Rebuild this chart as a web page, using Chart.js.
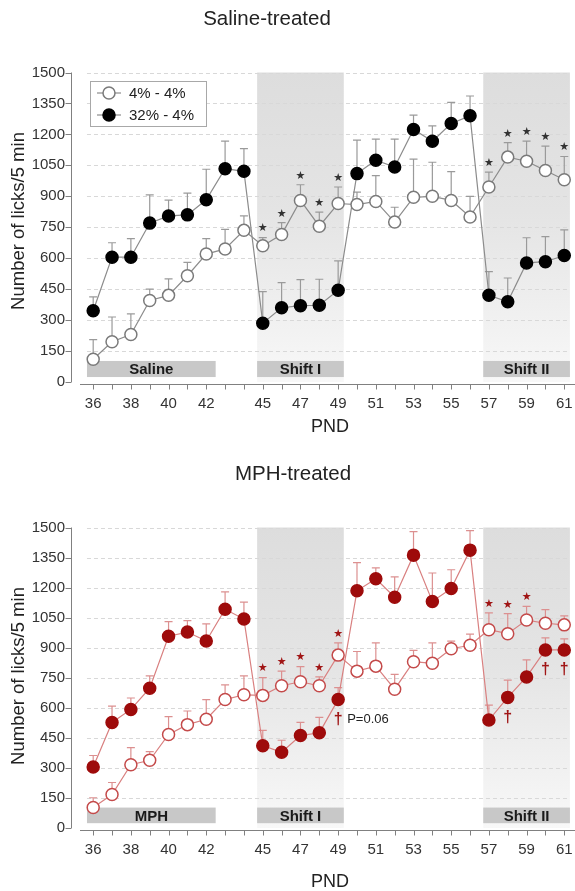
<!DOCTYPE html>
<html>
<head>
<meta charset="utf-8">
<script src="https://cdn.jsdelivr.net/npm/chart.js@4.4.1/dist/chart.umd.min.js"></script>
<style>
  html, body { margin: 0; padding: 0; background: #fff; }
  #wrap { position: relative; width: 575px; height: 891px; overflow: hidden; }
  .panel { position: absolute; left: 0; width: 575px; }
</style>
</head>
<body>
<div id="wrap">
  <div class="panel" style="top:0"><canvas id="salineChart" width="575" height="445"></canvas></div>
  <div class="panel" style="top:455px"><canvas id="mphChart" width="575" height="436"></canvas></div>
</div>
<script>
// licks per 5 min, PND 36..61
const days = [36, 37, 38, 39, 40, 41, 42, 43, 44, 45, 46, 47, 48, 49, 50, 51, 52, 53, 54, 55, 56, 57, 58, 59, 60, 61];
const dayLabels = [36, 38, 40, 42, 45, 47, 49, 51, 53, 55, 57, 59, 61];
const seriesNames = ['4% - 4%', '32% - 4%'];

const salineCtrl    = [110, 195, 230, 395, 420, 515, 620, 645, 735, 660, 715, 880, 755, 865, 860, 875, 775, 895, 900, 880, 800, 945, 1090, 1070, 1025, 980];
const salineCtrlErr = [95, 120, 100, 55, 80, 65, 75, 95, 70, 40, 57, 76, 68, 80, 60, 125, 72, 185, 165, 140, 100, 72, 70, 97, 118, 113];
const salineShift    = [345, 605, 605, 770, 805, 810, 883, 1034, 1021, 285, 360, 370, 372, 445, 1010, 1075, 1042, 1224, 1167, 1253, 1290, 420, 389, 577, 583, 613];
const salineShiftErr = [68, 70, 90, 137, 76, 105, 148, 133, 110, 153, 122, 126, 126, 142, 162, 102, 135, 69, 74, 102, 96, 115, 115, 122, 122, 124];

const mphCtrl    = [102, 167, 316, 338, 467, 516, 543, 641, 665, 662, 710, 730, 710, 863, 783, 808, 693, 830, 822, 895, 912, 990, 970, 1038, 1022, 1014];
const mphCtrlErr = [49, 60, 85, 43, 89, 68, 98, 73, 94, 89, 73, 76, 44, 61, 98, 116, 74, 57, 102, 38, 56, 84, 100, 68, 68, 45];
const mphShift    = [305, 527, 592, 698, 957, 978, 933, 1092, 1043, 411, 378, 462, 475, 641, 1184, 1244, 1152, 1362, 1131, 1195, 1387, 539, 652, 754, 889, 889];
const mphShiftErr = [57, 81, 57, 61, 73, 57, 86, 87, 84, 76, 60, 65, 77, 60, 141, 54, 102, 117, 142, 94, 97, 74, 86, 85, 60, 55];

const salinePhases = ['Saline', 'Shift I', 'Shift II'];
const mphPhases = ['MPH', 'Shift I', 'Shift II'];
const phaseFrom = [35.67, 44.7, 56.7];
const phaseTo = [42.5, 49.3, 61.3];
const shadeFrom = [44.7, 56.7];
const shadeTo = [49.3, 61.3];

const salineStars = [45, 46, 47, 48, 49, 57, 58, 59, 60, 61];
const mphStars = [45, 46, 47, 48, 49, 57, 58, 59];
const mphDaggers = [49, 58, 60, 61];

const FONT = "'Liberation Sans', Arial, Helvetica, sans-serif";

const decorPlugin = {
  id: 'decor',
  beforeDatasetsDraw(chart) {
    const { ctx, chartArea: a, scales: { x, y } } = chart;
    const o = chart.options.plugins.decor;
    const yTop = y.getPixelForValue(1500);
    const yBot = y.getPixelForValue(0);
    ctx.save();

    // shaded shift periods
    shadeFrom.forEach((s, i) => {
      const x0 = x.getPixelForValue(s);
      const x1 = x.getPixelForValue(shadeTo[i]);
      const g = ctx.createLinearGradient(0, yTop, 0, yBot);
      g.addColorStop(0, '#dddddd');
      g.addColorStop(0.45, '#e4e4e4');
      g.addColorStop(1, '#f8f8f8');
      ctx.fillStyle = g;
      ctx.fillRect(x0, yTop, x1 - x0, yBot - yTop);
    });

    // dashed grid
    ctx.strokeStyle = '#d8d8d8';
    ctx.lineWidth = 1;
    ctx.setLineDash([4, 3]);
    for (let v = 150; v <= 1500; v += 150) {
      const py = Math.round(y.getPixelForValue(v)) + 0.5;
      ctx.beginPath();
      ctx.moveTo(x.getPixelForValue(35.67), py);
      ctx.lineTo(x.getPixelForValue(61.3), py);
      ctx.stroke();
    }
    ctx.setLineDash([]);

    // phase bars
    const bTop = y.getPixelForValue(102);
    const bBot = y.getPixelForValue(24);
    o.phases.forEach((name, i) => {
      const x0 = x.getPixelForValue(phaseFrom[i]);
      const x1 = x.getPixelForValue(phaseTo[i]);
      ctx.fillStyle = '#c8c8c8';
      ctx.fillRect(x0, bTop, x1 - x0, bBot - bTop);
      ctx.fillStyle = '#1a1a1a';
      ctx.font = 'bold 15px ' + FONT;
      ctx.textAlign = 'center';
      ctx.textBaseline = 'middle';
      ctx.fillText(name, (x0 + x1) / 2, (bTop + bBot) / 2 + 1);
    });

    // axes
    ctx.strokeStyle = '#808080';
    ctx.lineWidth = 1;
    const ax = a.left - 8.5;
    ctx.beginPath();
    ctx.moveTo(ax, yTop);
    ctx.lineTo(ax, yBot);
    for (let v = 0; v <= 1500; v += 150) {
      const py = Math.round(y.getPixelForValue(v)) + 0.5;
      ctx.moveTo(ax - 6, py);
      ctx.lineTo(ax, py);
    }
    const ay = yBot + 2.5;
    ctx.moveTo(a.left, ay);
    ctx.lineTo(a.right, ay);
    days.forEach((d) => {
      const px = Math.round(x.getPixelForValue(d)) + 0.5;
      ctx.moveTo(px, ay);
      ctx.lineTo(px, ay + 5);
    });
    ctx.stroke();

    // error bars (upward only)
    o.errs.forEach((errs, di) => {
      const vals = o.vals[di];
      const meta = chart.getDatasetMeta(di);
      ctx.strokeStyle = o.errColor;
      ctx.lineWidth = 1.2;
      ctx.beginPath();
      meta.data.forEach((pt, j) => {
        const top = y.getPixelForValue(vals[j] + errs[j]);
        ctx.moveTo(pt.x, pt.y);
        ctx.lineTo(pt.x, top);
        ctx.moveTo(pt.x - 4, top);
        ctx.lineTo(pt.x + 4, top);
      });
      ctx.stroke();
    });
    ctx.restore();
  },
  afterDatasetsDraw(chart) {
    const { ctx, scales: { x, y } } = chart;
    const o = chart.options.plugins.decor;
    const ctrl = o.vals[0];
    const shift = o.vals[1];
    ctx.save();

    // significance stars
    ctx.fillStyle = o.markColor;
    ctx.font = "11px 'DejaVu Sans'";
    ctx.textAlign = 'center';
    ctx.textBaseline = 'middle';
    o.stars.forEach((d) => {
      const j = days.indexOf(d);
      const py = y.getPixelForValue(ctrl[j] + o.errs[0][j]) - 9;
      ctx.fillText('\u2605', x.getPixelForValue(d), py);
    });

    // daggers
    ctx.font = 'bold 16px ' + FONT;
    o.daggers.forEach((d) => {
      const j = days.indexOf(d);
      ctx.fillText('\u2020', x.getPixelForValue(d), y.getPixelForValue(shift[j]) + 20);
    });
    if (o.note) {
      const j = days.indexOf(49);
      ctx.fillStyle = '#222';
      ctx.font = '13px ' + FONT;
      ctx.textAlign = 'left';
      ctx.fillText(o.note, x.getPixelForValue(49) + 9, y.getPixelForValue(shift[j]) + 20);
    }

    // legend
    if (o.legend) {
      ctx.fillStyle = '#fff';
      ctx.fillRect(90, 81, 116, 45);
      ctx.strokeStyle = '#a8a8a8';
      ctx.lineWidth = 1;
      ctx.strokeRect(90.5, 81.5, 116, 45);
      [93, 115].forEach((ly, i) => {
        const ds = chart.data.datasets[i];
        ctx.strokeStyle = ds.borderColor;
        ctx.lineWidth = 1.2;
        ctx.beginPath();
        ctx.moveTo(97, ly);
        ctx.lineTo(121, ly);
        ctx.stroke();
        ctx.beginPath();
        ctx.arc(109, ly, 6, 0, Math.PI * 2);
        ctx.fillStyle = ds.pointBackgroundColor;
        ctx.fill();
        ctx.strokeStyle = ds.pointBorderColor;
        ctx.lineWidth = 1.5;
        ctx.stroke();
        ctx.fillStyle = '#222';
        ctx.font = '15px ' + FONT;
        ctx.textAlign = 'left';
        ctx.fillText(seriesNames[i], 129, ly + 1);
      });
    }

    // titles
    ctx.fillStyle = '#222';
    ctx.textAlign = 'center';
    ctx.textBaseline = 'middle';
    ctx.font = '20.5px ' + FONT;
    ctx.fillText(o.title, o.titleX, 19);
    ctx.font = '18px ' + FONT;
    ctx.fillText('PND', 330, 427);
    ctx.translate(19, 221);
    ctx.rotate(-Math.PI / 2);
    ctx.font = '18.5px ' + FONT;
    ctx.fillText('Number of licks/5 min', 0, 0);
    ctx.restore();
  }
};

function makeChart(id, ctrl, ctrlErr, shift, shiftErr, c) {
  return new Chart(document.getElementById(id), {
    type: 'line',
    data: {
      datasets: [
        {
          label: seriesNames[0],
          data: ctrl.map((v, i) => ({ x: days[i], y: v })),
          borderColor: c.ctrlLine,
          borderWidth: 1.2,
          pointRadius: 6,
          pointBorderWidth: 1.5,
          pointBackgroundColor: '#fff',
          pointBorderColor: c.ctrlEdge,
          tension: 0,
        },
        {
          label: seriesNames[1],
          data: shift.map((v, i) => ({ x: days[i], y: v })),
          borderColor: c.shiftLine,
          borderWidth: 1.2,
          pointRadius: 6,
          pointBorderWidth: 1.5,
          pointBackgroundColor: c.shiftFill,
          pointBorderColor: c.shiftFill,
          tension: 0,
        },
      ],
    },
    options: {
      responsive: false,
      animation: false,
      layout: { autoPadding: false, padding: { top: 72.5, right: 0, left: 0, bottom: 0 } },
      plugins: {
        legend: { display: false },
        tooltip: { enabled: false },
        decor: {
          title: c.title,
          titleX: c.titleX,
          phases: c.phases,
          stars: c.stars,
          daggers: c.daggers,
          note: c.note,
          legend: c.legend,
          vals: [ctrl, shift],
          errs: [ctrlErr, shiftErr],
          errColor: c.errColor,
          markColor: c.markColor,
        },
      },
      scales: {
        x: {
          type: 'linear',
          min: 35.3,
          max: 61.57,
          afterBuildTicks: (s) => { s.ticks = days.map((v) => ({ value: v })); },
          afterFit: (s) => { s.height = 63; s.paddingLeft = 0; s.paddingRight = 0; },
          grid: { display: false, drawTicks: false },
          border: { display: false },
          ticks: {
            autoSkip: false,
            maxRotation: 0,
            padding: 13,
            color: '#333',
            font: { family: FONT, size: 15 },
            callback: (v) => (dayLabels.includes(v) ? String(v) : ''),
          },
        },
        y: {
          min: 0,
          max: 1500,
          afterFit: (s) => { s.width = 80; s.paddingTop = 0; s.paddingBottom = 0; },
          grid: { display: false, drawTicks: false },
          border: { display: false },
          ticks: {
            stepSize: 150,
            padding: 15,
            color: '#333',
            font: { family: FONT, size: 15 },
            callback: (v) => String(v),
          },
        },
      },
    },
    plugins: [decorPlugin],
  });
}

makeChart('salineChart', salineCtrl, salineCtrlErr, salineShift, salineShiftErr, {
  title: 'Saline-treated', titleX: 267, phases: salinePhases, stars: salineStars, daggers: [], note: '',
  legend: true, ctrlLine: '#8c8c8c', ctrlEdge: '#7a7a7a', shiftLine: '#8c8c8c', shiftFill: '#000',
  errColor: '#9a9a9a', markColor: '#333',
});

makeChart('mphChart', mphCtrl, mphCtrlErr, mphShift, mphShiftErr, {
  title: 'MPH-treated', titleX: 293, phases: mphPhases, stars: mphStars, daggers: mphDaggers, note: 'P=0.06',
  legend: false, ctrlLine: '#d98080', ctrlEdge: '#c44a4a', shiftLine: '#d98080', shiftFill: '#9e0b0b',
  errColor: '#dc9090', markColor: '#a01515',
});
</script>
</body>
</html>
